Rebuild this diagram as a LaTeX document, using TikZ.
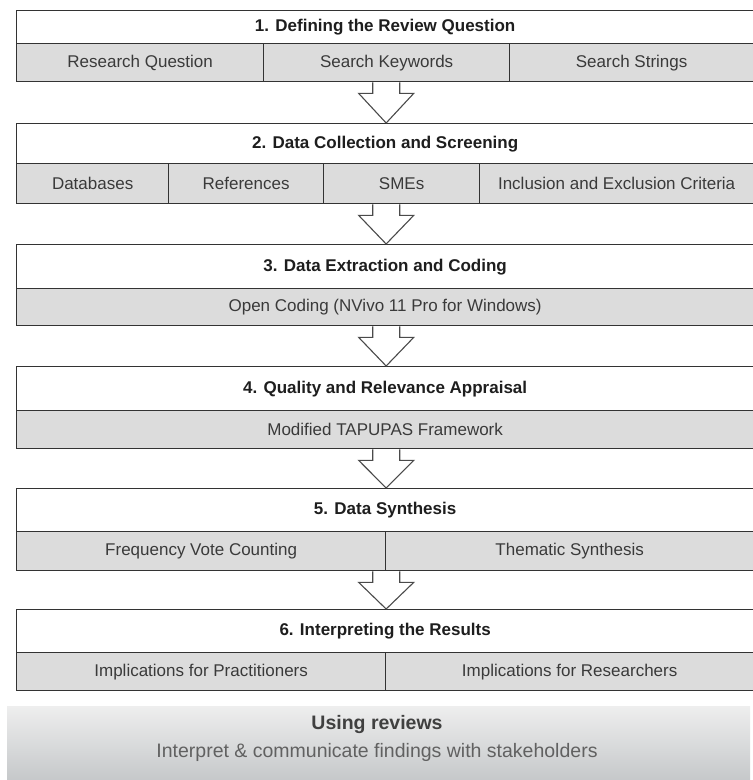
\documentclass[tikz,border=0pt]{standalone}
\usepackage{fontspec}
\setmainfont{Liberation Sans}
\usetikzlibrary{calc}
\definecolor{framec}{HTML}{333333}
\definecolor{cellfill}{HTML}{DCDCDC}
\definecolor{titletext}{HTML}{1E1E1E}
\definecolor{celltext}{HTML}{3A3A3A}
\definecolor{arrowc}{HTML}{4A4A4A}
\definecolor{usetop}{HTML}{EEEEEE}
\definecolor{usebot}{HTML}{C2C5C7}
\begin{document}
\begin{tikzpicture}[x=1pt,y=-1pt,
  titlerow/.style={draw=framec, line width=1.3pt, fill=white, anchor=north west,
    inner sep=0pt, minimum width=737pt, text=titletext,
    font=\fontsize{17}{20}\selectfont\bfseries},
  cell/.style={draw=framec, line width=1.3pt, fill=cellfill, anchor=north west,
    inner sep=0pt, text=celltext, font=\fontsize{17}{20}\selectfont},
  stageframe/.style={draw=framec, line width=1.4pt, anchor=north west,
    inner sep=0pt, minimum width=737pt},
  blockarrow/.style={draw=arrowc, line width=1.1pt, line join=miter},
  usebox/.style={anchor=north west, inner sep=0pt, top color=usetop,
    bottom color=usebot, minimum width=743pt, minimum height=80pt},
]
\useasboundingbox (0,0) rectangle (753,780);

% Stage 1
\node[titlerow, minimum height=33pt] (t1) at (16,10) {1. Defining the Review Question};
\node[cell, minimum width=247pt, minimum height=38pt] (c1a) at (16,43) {Research Question};
\node[cell, minimum width=246pt, minimum height=38pt] (c1b) at (263,43) {Search Keywords};
\node[cell, minimum width=244pt, minimum height=38pt] (c1c) at (509,43) {Search Strings};
\node[stageframe, minimum height=71pt] (b1) at (16,10) {};

% Stage 2
\node[titlerow, minimum height=40pt] (t2) at (16,123) {2. Data Collection and Screening};
\node[cell, minimum width=152pt, minimum height=40pt] (c2a) at (16,163) {Databases};
\node[cell, minimum width=155pt, minimum height=40pt] (c2b) at (168,163) {References};
\node[cell, minimum width=156pt, minimum height=40pt] (c2c) at (323,163) {SMEs};
\node[cell, minimum width=274pt, minimum height=40pt] (c2d) at (479,163) {Inclusion and Exclusion Criteria};
\node[stageframe, minimum height=80pt] (b2) at (16,123) {};

% Stage 3
\node[titlerow, minimum height=44pt] (t3) at (16,244) {3. Data Extraction and Coding};
\node[cell, minimum width=737pt, minimum height=37pt] (c3a) at (16,288) {Open Coding (NVivo 11 Pro for Windows)};
\node[stageframe, minimum height=81pt] (b3) at (16,244) {};

% Stage 4
\node[titlerow, minimum height=44pt] (t4) at (16,366) {4. Quality and Relevance Appraisal};
\node[cell, minimum width=737pt, minimum height=38pt] (c4a) at (16,410) {Modified TAPUPAS Framework};
\node[stageframe, minimum height=82pt] (b4) at (16,366) {};

% Stage 5
\node[titlerow, minimum height=43pt] (t5) at (16,488) {5. Data Synthesis};
\node[cell, minimum width=369pt, minimum height=39pt] (c5a) at (16,531) {Frequency Vote Counting};
\node[cell, minimum width=368pt, minimum height=39pt] (c5b) at (385,531) {Thematic Synthesis};
\node[stageframe, minimum height=82pt] (b5) at (16,488) {};

% Stage 6
\node[titlerow, minimum height=43pt] (t6) at (16,609) {6. Interpreting the Results};
\node[cell, minimum width=369pt, minimum height=38pt] (c6a) at (16,652) {Implications for Practitioners};
\node[cell, minimum width=368pt, minimum height=38pt] (c6b) at (385,652) {Implications for Researchers};
\node[stageframe, minimum height=81pt] (b6) at (16,609) {};

% Hollow block arrows between the stages
\foreach \a/\b in {b1/t2, b2/t3, b3/t4, b4/t5, b5/t6}{
  \draw[blockarrow]
    ($(\a.south)+(-12.5,0)$) -- ++(0,11) -- ++(-14,0)
    -- ($(\b.north)+(1,0)$)
    -- ($(\a.south)+(28.5,11)$) -- ++(-14,0) -- ++(0,-11);
}

% Closing panel
\node[usebox] (use) at (7,706) {};
\node[text=black!75, font=\fontsize{19.5}{22}\selectfont\bfseries] (usetitle) at (377,724) {Using reviews};
\node[text=black!62, font=\fontsize{19.5}{22}\selectfont] (usesub) at (377,752) {Interpret \& communicate findings with stakeholders};
\end{tikzpicture}
\end{document}
